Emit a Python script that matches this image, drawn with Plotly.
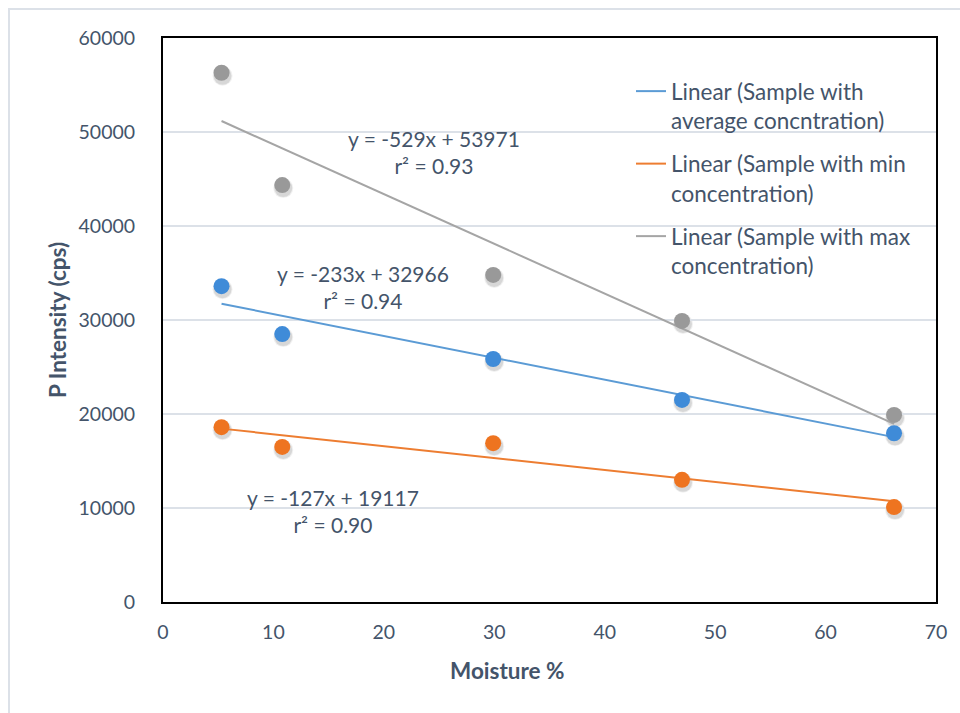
import plotly.graph_objects as go

# Moisture content of the samples (%)
moisture = [5.3, 10.8, 29.9, 47.0, 66.2]

# P intensity (cps) for each sample
avg_conc = [33600, 28500, 25850, 21500, 17950]
min_conc = [18600, 16500, 16900, 13000, 10100]
max_conc = [56300, 44350, 34800, 29900, 19900]

# Linear trendline coefficients: slope, intercept, r²
avg_fit = (-233, 32966, 0.94)
min_fit = (-127, 19117, 0.90)
max_fit = (-529, 53971, 0.93)

# Label anchor points (x, y) for the trendline equations
avg_label_at = (18.1, 33560)
min_label_at = (15.4, 9730)
max_label_at = (24.5, 47870)

x_ticks = [0, 10, 20, 30, 40, 50, 60, 70]
y_ticks = [0, 10000, 20000, 30000, 40000, 50000, 60000]

BLUE = "#5B9BD5"
ORANGE = "#ED7D31"
GRAY = "#A5A5A5"
TEXT = "#44546A"
GRID = "#DCE1E8"
FONT = "Lato"

W, H = 960, 713
ML, MR, MT, MB = 163, 23, 38, 108
PW, PH = W - ML - MR, H - MT - MB
SDX, SDY = 1, 3  # marker shadow offset in pixels


def px_x(p):
    return (p - ML) / PW


def px_y(p):
    return (H - MB - p) / PH


def line_through(fit):
    xs = [min(moisture), max(moisture)]
    return xs, [fit[0] * x + fit[1] for x in xs]


fig = go.Figure()

series = [
    ("Linear (Sample with<br>average concntration)", avg_conc, avg_fit, BLUE, "#3F8BD8"),
    ("Linear (Sample with min<br>concentration)", min_conc, min_fit, ORANGE, "#EE7420"),
    ("Linear (Sample with max<br>concentration)", max_conc, max_fit, GRAY, "#999999"),
]

# soft drop shadows under the markers, on a hidden offset subplot drawn first
for name, ys, fit, lc, mc in series:
    for size, alpha in [(20, 0.06), (18, 0.10)]:
        fig.add_trace(go.Scatter(
            x=moisture, y=ys, mode="markers", xaxis="x", yaxis="y",
            marker=dict(size=size, color=f"rgba(0,0,0,{alpha})", line=dict(width=0)),
            showlegend=False, hoverinfo="skip"))

# trendlines
for i, (name, ys, fit, lc, mc) in enumerate(series):
    xs, fy = line_through(fit)
    fig.add_trace(go.Scatter(
        x=xs, y=fy, mode="lines", name=name, legendgroup=f"g{i}",
        xaxis="x2", yaxis="y2", line=dict(color=lc, width=2)))

# data points
for name, ys, fit, lc, mc in series:
    fig.add_trace(go.Scatter(
        x=moisture, y=ys, mode="markers", xaxis="x2", yaxis="y2",
        marker=dict(size=16, color=mc, line=dict(width=0)),
        showlegend=False))

annotations = []
for fit, (ax, ay) in [(max_fit, max_label_at), (avg_fit, avg_label_at), (min_fit, min_label_at)]:
    annotations.append(dict(
        x=ax, y=ay, xref="x2", yref="y2", showarrow=False,
        xanchor="center", yanchor="middle",
        text=f"y = {fit[0]}x + {fit[1]}<br>r² = {fit[2]:.2f}",
        font=dict(family=FONT, size=21, color=TEXT), align="center"))

annotations.append(dict(
    x=px_x(507), y=px_y(671), xref="paper", yref="paper", showarrow=False,
    xanchor="center", yanchor="middle",
    text="<b>Moisture %</b>", font=dict(family=FONT, size=22.5, color=TEXT)))

shapes = [dict(
    type="rect", xref="paper", yref="paper",
    x0=px_x(9), x1=px_x(1000), y0=px_y(9), y1=px_y(760),
    line=dict(color="#DCE1E8", width=2), fillcolor="rgba(0,0,0,0)", layer="below")]

x_main = [0, (PW - SDX) / PW]
y_main = [SDY / PH, 1]

fig.update_layout(
    width=W, height=H,
    margin=dict(l=ML, r=MR, t=MT, b=MB),
    paper_bgcolor="white", plot_bgcolor="rgba(0,0,0,0)",
    font=dict(family=FONT, size=21, color=TEXT),
    xaxis=dict(domain=[SDX / PW, 1], range=[0, 70], visible=False,
               anchor="y", showgrid=False),
    yaxis=dict(domain=[0, (PH - SDY) / PH], range=[0, 60000], visible=False,
               anchor="x", showgrid=False),
    xaxis2=dict(
        domain=x_main, range=[0, 70], tickvals=x_ticks, anchor="y2",
        showgrid=False, zeroline=False,
        showline=True, mirror=True, linecolor="black", linewidth=2,
        ticks="", ticklabelstandoff=12,
        tickfont=dict(family=FONT, size=19.5, color=TEXT)),
    yaxis2=dict(
        domain=y_main, range=[0, 60000], tickvals=y_ticks, tickformat="d",
        anchor="x2",
        showgrid=True, gridcolor=GRID, gridwidth=1.5, zeroline=False,
        showline=True, mirror=True, linecolor="black", linewidth=2,
        ticks="", ticklabelstandoff=22,
        tickfont=dict(family=FONT, size=19.5, color=TEXT),
        title=dict(text="<b>P Intensity (cps)</b>", standoff=6,
                   font=dict(family=FONT, size=22.5, color=TEXT))),
    legend=dict(
        x=px_x(631), y=px_y(70), xanchor="left", yanchor="top",
        bgcolor="rgba(0,0,0,0)", valign="top", tracegroupgap=11,
        font=dict(family=FONT, size=22.5, color=TEXT)),
    annotations=annotations,
    shapes=shapes,
)

fig.write_html("out.html")
